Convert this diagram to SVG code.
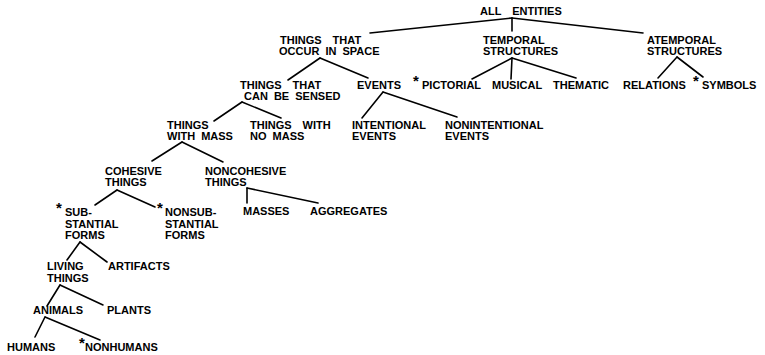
<svg xmlns="http://www.w3.org/2000/svg" width="765" height="355" viewBox="0 0 765 355">
  <style>
    text { font-family: "Liberation Sans", Arial, sans-serif; font-weight: bold; font-size: 11px; fill: #000; word-spacing: 3px; }
    text.wide { word-spacing: 8px; }
    text.star { font-size: 15px; }
    #connectors line { stroke: #000; stroke-width: 1.6; stroke-linecap: round; }
  </style>
  <rect width="765" height="355" fill="#fff"/>

  <!-- tree connectors -->
  <g id="connectors">
    <line x1="512" y1="18" x2="370" y2="33"/>
    <line x1="512" y1="18" x2="512" y2="31"/>
    <line x1="512" y1="18" x2="643" y2="33"/>

    <line x1="320" y1="58" x2="288" y2="80"/>
    <line x1="320" y1="58" x2="368" y2="78"/>

    <line x1="512" y1="58" x2="472" y2="79"/>
    <line x1="512" y1="58" x2="511" y2="79"/>
    <line x1="512" y1="58" x2="576" y2="78"/>

    <line x1="677" y1="57" x2="658" y2="78"/>
    <line x1="677" y1="57" x2="703" y2="77"/>

    <line x1="242" y1="102" x2="214" y2="121"/>
    <line x1="242" y1="102" x2="281" y2="118"/>

    <line x1="383" y1="92" x2="362" y2="118"/>
    <line x1="383" y1="92" x2="457" y2="117"/>

    <line x1="182" y1="142" x2="152" y2="161"/>
    <line x1="182" y1="142" x2="223" y2="162"/>

    <line x1="247" y1="188" x2="247" y2="203"/>
    <line x1="247" y1="188" x2="318" y2="203"/>

    <line x1="117" y1="190" x2="95" y2="205"/>
    <line x1="117" y1="190" x2="155" y2="207"/>

    <line x1="80" y1="242" x2="67" y2="260"/>
    <line x1="80" y1="242" x2="107" y2="262"/>

    <line x1="60" y1="285" x2="47" y2="306"/>
    <line x1="60" y1="285" x2="103" y2="305"/>

    <line x1="45" y1="317" x2="35" y2="337"/>
    <line x1="45" y1="317" x2="100" y2="340"/>
  </g>

  <!-- nodes -->
  <g id="n-all"><text class="wide" x="480" y="15">ALL ENTITIES</text></g>

  <g id="n-space"><text class="wide" x="280" y="44">THINGS THAT</text><text x="279" y="55" word-spacing="6">OCCUR IN SPACE</text></g>
  <g id="n-temporal"><text x="483" y="44">TEMPORAL</text><text x="483" y="55">STRUCTURES</text></g>
  <g id="n-atemporal"><text x="647" y="44">ATEMPORAL</text><text x="647" y="55">STRUCTURES</text></g>

  <g id="n-sensed"><text class="wide" x="240" y="89">THINGS THAT</text><text x="244" y="100">CAN BE SENSED</text></g>
  <g id="n-events"><text x="357" y="89">EVENTS</text></g>
  <g id="n-pictorial"><text class="star" x="413" y="86">*</text><text x="422" y="89">PICTORIAL</text></g>
  <g id="n-musical"><text x="492" y="89">MUSICAL</text></g>
  <g id="n-thematic"><text x="553" y="89">THEMATIC</text></g>
  <g id="n-relations"><text x="623" y="89">RELATIONS</text></g>
  <g id="n-symbols"><text class="star" x="693" y="86">*</text><text x="702" y="89">SYMBOLS</text></g>

  <g id="n-mass"><text x="167" y="129">THINGS</text><text x="167" y="140">WITH MASS</text></g>
  <g id="n-nomass"><text class="wide" x="250" y="129">THINGS WITH</text><text x="250" y="140">NO MASS</text></g>
  <g id="n-intentional"><text x="352" y="129">INTENTIONAL</text><text x="352" y="140">EVENTS</text></g>
  <g id="n-nonintentional"><text x="445" y="129">NONINTENTIONAL</text><text x="445" y="140">EVENTS</text></g>

  <g id="n-cohesive"><text x="105" y="175">COHESIVE</text><text x="105" y="186">THINGS</text></g>
  <g id="n-noncohesive"><text x="205" y="175">NONCOHESIVE</text><text x="205" y="186">THINGS</text></g>

  <g id="n-substantial"><text class="star" x="56" y="213">*</text><text x="65" y="216">SUB-</text><text x="65" y="228">STANTIAL</text><text x="65" y="239">FORMS</text></g>
  <g id="n-nonsubstantial"><text class="star" x="157" y="213">*</text><text x="165" y="216">NONSUB-</text><text x="165" y="228">STANTIAL</text><text x="165" y="239">FORMS</text></g>
  <g id="n-masses"><text x="243" y="215">MASSES</text></g>
  <g id="n-aggregates"><text x="310" y="215">AGGREGATES</text></g>

  <g id="n-living"><text x="47" y="270">LIVING</text><text x="47" y="282">THINGS</text></g>
  <g id="n-artifacts"><text x="108" y="270">ARTIFACTS</text></g>

  <g id="n-animals"><text x="33" y="314">ANIMALS</text></g>
  <g id="n-plants"><text x="107" y="314">PLANTS</text></g>

  <g id="n-humans"><text x="7" y="351">HUMANS</text></g>
  <g id="n-nonhumans"><text class="star" x="79" y="348">*</text><text x="85" y="351">NONHUMANS</text></g>
</svg>
